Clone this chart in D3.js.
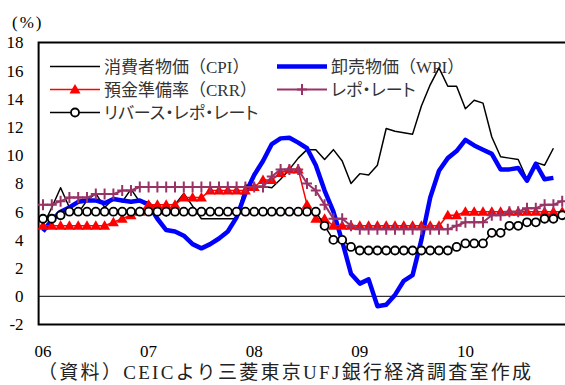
<!DOCTYPE html>
<html>
<head>
<meta charset="utf-8">
<script src="https://cdn.jsdelivr.net/npm/d3@7"></script>
<style>
  body { margin: 0; background: #fff; }
  svg { display: block; }
  text { font-family: "Liberation Serif", "Noto Sans CJK JP", serif; }
  .palt { font-feature-settings: "palt"; }
</style>
</head>
<body>
<svg id="chart" width="565" height="385"></svg>
<script>
// Monthly observations, April 2006 – March 2011 (Indian fiscal years)
const months = d3.timeMonth.range(new Date(2006, 3, 1), new Date(2011, 3, 1));
const yearLabels = ["06", "07", "08", "09", "10"];
const yTicks = [-2, 0, 2, 4, 6, 8, 10, 12, 14, 16, 18];

// Consumer price inflation (CPI), % y/y, Apr 2006 – Feb 2011
const cpi = [
  5.0, 6.3, 7.7, 6.3, 5.9, 6.8, 7.3, 6.3, 6.9, 6.7, 7.6, 6.7,
  6.7, 6.1, 5.7, 6.5, 7.3, 6.4, 5.5, 5.5, 5.5, 5.5, 5.5, 7.9,
  7.8, 7.8, 7.7, 8.3, 9.0, 9.8, 10.4, 10.4, 9.7, 10.4, 9.6, 8.0,
  8.7, 8.6, 9.3, 11.9, 11.7, 11.6, 11.5, 13.5, 15.0, 16.2, 14.9, 14.9,
  13.3, 13.9, 13.7, 11.3, 9.9, 9.8, 9.7, 8.3, 9.5, 9.3, 10.5
];
// Wholesale price inflation (WPI), % y/y, Apr 2006 – Feb 2011
const wpi = [
  4.6, 5.4, 6.0, 6.3, 6.7, 6.8, 6.8, 6.6, 6.9, 6.8, 6.7, 6.8,
  6.5, 5.5, 4.7, 4.6, 4.3, 3.7, 3.4, 3.7, 4.1, 4.6, 5.6, 7.3,
  8.6, 9.6, 10.8, 11.2, 11.25, 10.9, 10.5, 9.3, 7.5, 6.0, 3.9, 1.6,
  0.9, 1.2, -0.7, -0.6, 0.1, 1.1, 1.5, 4.0, 7.0, 8.9, 9.8, 10.3,
  11.1, 10.7, 10.4, 10.1, 9.0, 9.0, 9.1, 8.2, 9.4, 8.3, 8.4
];
// Cash reserve ratio (CRR), %
const crr = [
  5.0, 5.0, 5.0, 5.0, 5.0, 5.0, 5.0, 5.0, 5.25, 5.5, 5.75, 6.0,
  6.5, 6.5, 6.5, 6.5, 7.0, 7.0, 7.0, 7.5, 7.5, 7.5, 7.5, 7.5,
  7.75, 8.25, 8.25, 8.75, 9.0, 9.0, 6.5, 5.5, 5.5, 5.0, 5.0, 5.0,
  5.0, 5.0, 5.0, 5.0, 5.0, 5.0, 5.0, 5.0, 5.0, 5.0, 5.75, 5.75,
  6.0, 6.0, 6.0, 6.0, 6.0, 6.0, 6.0, 6.0, 6.0, 6.0, 6.0, 6.0
];
// Repo rate, %
const repo = [
  6.5, 6.5, 6.75, 7.0, 7.0, 7.0, 7.25, 7.25, 7.25, 7.5, 7.5, 7.75,
  7.75, 7.75, 7.75, 7.75, 7.75, 7.75, 7.75, 7.75, 7.75, 7.75, 7.75, 7.75,
  7.75, 7.75, 8.5, 9.0, 9.0, 9.0, 8.0, 7.5, 6.5, 5.5, 5.5, 5.0,
  4.75, 4.75, 4.75, 4.75, 4.75, 4.75, 4.75, 4.75, 4.75, 4.75, 4.75, 5.0,
  5.25, 5.25, 5.25, 5.75, 5.75, 6.0, 6.0, 6.25, 6.25, 6.5, 6.5, 6.75
];
// Reverse repo rate, %
const reverseRepo = [
  5.5, 5.5, 5.75, 6.0, 6.0, 6.0, 6.0, 6.0, 6.0, 6.0, 6.0, 6.0,
  6.0, 6.0, 6.0, 6.0, 6.0, 6.0, 6.0, 6.0, 6.0, 6.0, 6.0, 6.0,
  6.0, 6.0, 6.0, 6.0, 6.0, 6.0, 6.0, 6.0, 5.0, 4.0, 4.0, 3.5,
  3.25, 3.25, 3.25, 3.25, 3.25, 3.25, 3.25, 3.25, 3.25, 3.25, 3.25, 3.5,
  3.75, 3.75, 3.75, 4.5, 4.5, 5.0, 5.0, 5.25, 5.25, 5.5, 5.5, 5.75
];

const series = [
  { name: "消費者物価（CPI）", values: cpi, color: "#000000", width: 1.5, marker: null, palt: false },
  { name: "卸売物価（WPI）", values: wpi, color: "#0000ff", width: 4.5, marker: null, palt: false },
  { name: "預金準備率（CRR）", values: crr, color: "#ff0000", width: 1.5, marker: "triangle", palt: false },
  { name: "レポ・レート", values: repo, color: "#993366", width: 2, marker: "plus", palt: true },
  { name: "リバース・レポ・レート", values: reverseRepo, color: "#000000", width: 1.5, marker: "circle", palt: true }
];

const svg = d3.select("#chart");
const plot = { left: 38.6, top: 42.5, bottom: 324.5 };
const step = 8.8;

const x = d3.scaleBand()
  .domain(months)
  .range([plot.left, plot.left + months.length * step])
  .padding(0);
const cx = d => x(d) + x.bandwidth() / 2;

const y = d3.scaleLinear().domain([-2, 18]).range([plot.bottom, plot.top]);

// y axis labels
svg.append("g")
  .attr("transform", `translate(${plot.left},0)`)
  .call(d3.axisLeft(y).tickValues(yTicks).tickSize(0).tickPadding(15).tickFormat(d => String(d)))
  .call(g => g.select(".domain").remove())
  .call(g => g.selectAll("text").attr("font-size", 17).attr("fill", "#000")
    .style("font-family", "Liberation Serif"));

// x axis labels: start of each fiscal year
const yearStarts = yearLabels.map((_, k) => months[k * 12]);
svg.append("g")
  .attr("transform", `translate(0,${plot.bottom + 20})`)
  .call(d3.axisBottom(x).tickValues(yearStarts).tickSize(0).tickPadding(0)
    .tickFormat((d, k) => yearLabels[k]))
  .call(g => g.select(".domain").remove())
  .call(g => g.selectAll("text").attr("font-size", 17).attr("fill", "#000")
    .style("font-family", "Liberation Serif"));

// zero line
svg.append("line")
  .attr("x1", plot.left).attr("x2", 566)
  .attr("y1", y(0)).attr("y2", y(0))
  .attr("stroke", "#000").attr("stroke-width", 1);

// plot frame: top, left, bottom
svg.append("path")
  .attr("d", `M566,${plot.top}H${plot.left}V${plot.bottom}H566`)
  .attr("fill", "none").attr("stroke", "#000").attr("stroke-width", 2);

// marker drawing
function drawMarker(g, type, color, px, py) {
  if (type === "triangle") {
    g.append("path")
      .attr("d", `M${px},${py - 5.5}L${px + 5.5},${py + 4}L${px - 5.5},${py + 4}Z`)
      .attr("fill", color);
  } else if (type === "plus") {
    g.append("path")
      .attr("d", `M${px - 5},${py}H${px + 5}M${px},${py - 5.5}V${py + 5.5}`)
      .attr("stroke", color).attr("stroke-width", 2).attr("fill", "none");
  } else if (type === "circle") {
    g.append("circle")
      .attr("cx", px).attr("cy", py).attr("r", 4)
      .attr("fill", "#fff").attr("stroke", color).attr("stroke-width", 1.8);
  }
}

const line = d3.line()
  .x((d, i) => cx(months[i]))
  .y(d => y(d));

series.forEach(s => {
  const g = svg.append("g");
  g.append("path")
    .datum(s.values)
    .attr("d", line)
    .attr("fill", "none")
    .attr("stroke", s.color)
    .attr("stroke-width", s.width)
    .attr("stroke-linejoin", "round");
  if (s.marker) {
    s.values.forEach((v, i) => drawMarker(g, s.marker, s.color, cx(months[i]), y(v)));
  }
});

// legend
const legendPos = [
  { x: 50, y: 66.5 }, { x: 277, y: 66.5 },
  { x: 50, y: 89.5 }, { x: 277, y: 89.5 },
  { x: 50, y: 112.5 }
];
series.forEach((s, k) => {
  const p = legendPos[k];
  const g = svg.append("g");
  g.append("line")
    .attr("x1", p.x).attr("x2", p.x + 50)
    .attr("y1", p.y).attr("y2", p.y)
    .attr("stroke", s.color).attr("stroke-width", s.width);
  if (s.marker) drawMarker(g, s.marker, s.color, p.x + 25, p.y);
  g.append("text")
    .attr("class", s.palt ? "palt" : null)
    .attr("x", p.x + 54).attr("y", p.y + 6)
    .attr("font-size", 17).attr("fill", "#333")
    .text(s.name);
});

// unit
svg.append("text")
  .attr("x", 12).attr("y", 28)
  .attr("font-size", 17).attr("letter-spacing", 2)
  .text("(%)");

// source note
svg.append("text")
  .attr("x", 38).attr("y", 379)
  .attr("font-size", 19).attr("letter-spacing", 2.3).attr("fill", "#222")
  .text("（資料）CEICより三菱東京UFJ銀行経済調査室作成");
</script>
</body>
</html>
